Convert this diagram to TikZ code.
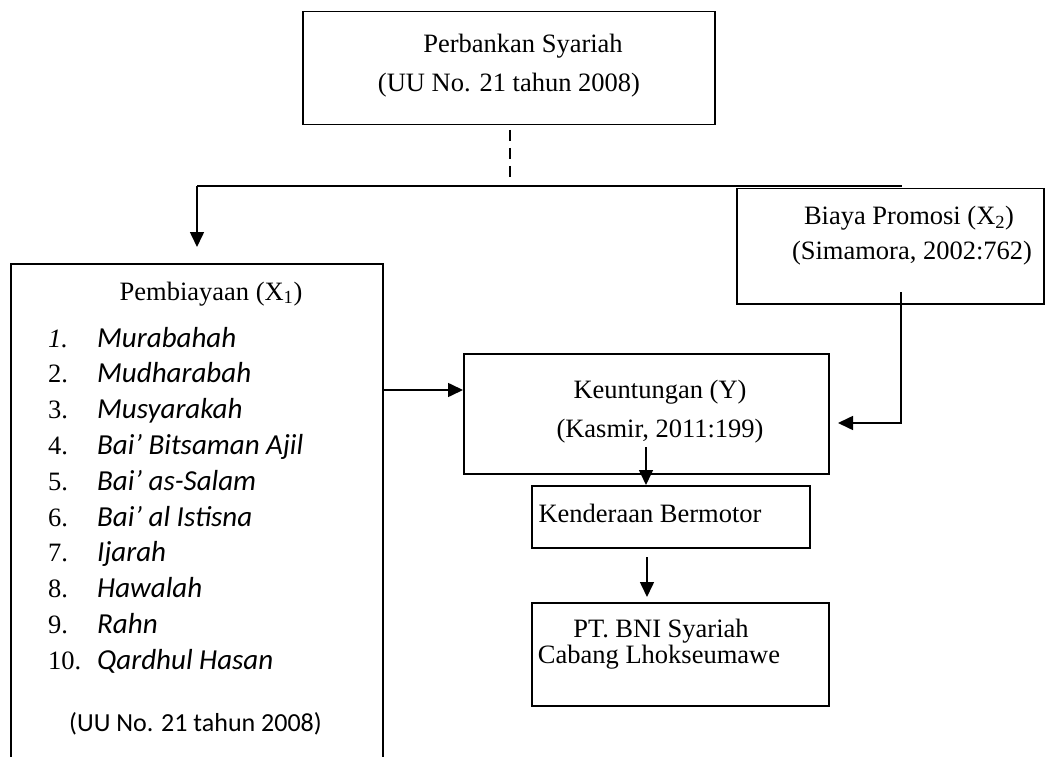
\documentclass[tikz,border=0pt]{standalone}
\usepackage{fontspec}
\setmainfont{Liberation Serif}
\newfontfamily\calib{Carlito}
\usetikzlibrary{arrows.meta}
\begin{document}
\begin{tikzpicture}[x=1pt,y=-1pt,
  box/.style={draw, line width=1.5pt, inner sep=0pt, anchor=north west},
  tm/.style={font=\fontsize{26.5}{30}\selectfont, inner sep=0pt, anchor=base},
  cb/.style={font=\calib\fontsize{29}{32}\selectfont\itshape, inner sep=0pt, anchor=base west},
  cbu/.style={font=\calib\fontsize{26}{30}\selectfont, inner sep=0pt, anchor=base},
  num/.style={font=\fontsize{26.5}{30}\selectfont, inner sep=0pt, anchor=base west},
  conn/.style={line width=1.6pt},
  arr/.style={conn, -{Triangle[length=15pt,width=14pt]}}]
\useasboundingbox (0,0) rectangle (1045,757);
% boxes
\node[box, minimum width=412pt, minimum height=113pt] (top) at (302,11) {};
\node[box, minimum width=307pt, minimum height=115pt] (bia) at (736,188) {};
\node[box, minimum width=372pt, minimum height=520pt] (left) at (10,263) {};
\node[box, minimum width=365pt, minimum height=120pt] (keu) at (463,353) {};
\node[box, minimum width=278pt, minimum height=62pt] (ken) at (531,485) {};
\node[box, minimum width=297pt, minimum height=103pt] (pt) at (531,602) {};
% texts
\node[tm] (t1) at (523,53) {Perbankan Syariah};
\node[tm] (t2) at (509,92) {(UU No. 21 tahun 2008)};
\node[tm] (b1t) at (909,225) {Biaya Promosi (X\textsubscript{2})};
\node[tm] (b2t) at (912,259) {(Simamora, 2002:762)};
\node[tm] (p1) at (211,300) {Pembiayaan (X\textsubscript{1})};
\node[tm] (k1t) at (660,398) {Keuntungan (Y)};
\node[tm] (k2t) at (660,437) {(Kasmir, 2011:199)};
\node[tm] (kent) at (650,522) {Kenderaan Bermotor};
\node[tm] (pt1) at (661,637) {PT. BNI Syariah};
\node[tm] (pt2) at (659,663) {Cabang Lhokseumawe};
% list
\node[num] (n1) at (48,347) {\itshape 1.};
\node[num] (n2) at (48,382.8) {2.};
\node[num] (n3) at (48,418.6) {3.};
\node[num] (n4) at (48,454.4) {4.};
\node[num] (n5) at (48,490.2) {5.};
\node[num] (n6) at (48,526) {6.};
\node[num] (n7) at (48,561.8) {7.};
\node[num] (n8) at (48,597.6) {8.};
\node[num] (n9) at (48,633.4) {9.};
\node[num] (n10) at (48,669.2) {10.};
\node[cb] (i1) at (97,347) {Murabahah};
\node[cb] (i2) at (97,382.8) {Mudharabah};
\node[cb] (i3) at (97,418.6) {Musyarakah};
\node[cb] (i4) at (97,454.4) {Bai’ Bitsaman Ajil};
\node[cb] (i5) at (97,490.2) {Bai’ as-Salam};
\node[cb] (i6) at (97,526) {Bai’ al Istisna};
\node[cb] (i7) at (97,561.8) {Ijarah};
\node[cb] (i8) at (97,597.6) {Hawalah};
\node[cb] (i9) at (97,633.4) {Rahn};
\node[cb] (i10) at (97,669.2) {Qardhul Hasan};
\node[cbu] (uu) at (195.5,731) {(UU No. 21 tahun 2008)};
% connectors
\coordinate (d1) at (510,130);
\coordinate (d2) at (510,178);
\draw[conn, line width=2pt, dash pattern=on 11pt off 7pt] (d1) -- (d2);
\coordinate (hl) at (197,186);
\coordinate (hr) at (902,186);
\draw[conn] (hl) -- (hr);
\coordinate (la) at (197,247);
\draw[arr] (hl) -- (la);
\coordinate (y390) at (0,390);
\draw[arr] (left.east |- y390) -- (keu.west |- y390);
\coordinate (bs) at (901,292);
\coordinate (bt) at (838,423);
\draw[arr] (bs) |- (bt);
\coordinate (ks) at (646,447);
\draw[arr] (ks) -- (ks |- ken.north);
\coordinate (es) at (647,557);
\coordinate (et) at (647,597);
\draw[arr] (es) -- (et);
\end{tikzpicture}
\end{document}
